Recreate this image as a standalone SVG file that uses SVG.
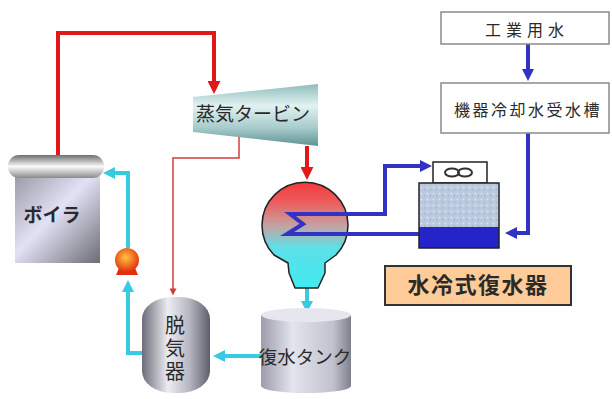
<svg xmlns="http://www.w3.org/2000/svg" width="612" height="399" viewBox="0 0 612 399">
  <style>
    .jp { font-family: "Noto Sans CJK JP", "Noto Sans", sans-serif; fill: #2a2a2a; }
    .steam { fill: none; stroke: #e01818; stroke-width: 4; }
    .bleed { fill: none; stroke: #d23c3c; stroke-width: 1.5; }
    .water { fill: none; stroke: #36cbe0; stroke-width: 4; }
    .cool { fill: none; stroke: #3232c4; stroke-width: 4; }
    .box { fill: #ffffff; stroke: #8a8a8a; stroke-width: 1.5; }
  </style>
  <defs>
    <marker id="arRed" viewBox="0 0 12 12" markerUnits="userSpaceOnUse" markerWidth="13" markerHeight="13" refX="1" refY="6" orient="auto">
      <path d="M0,0 L12,6 L0,12 z" fill="#e01818"/>
    </marker>
    <marker id="arRedThin" viewBox="0 0 12 12" markerUnits="userSpaceOnUse" markerWidth="7" markerHeight="7" refX="1" refY="6" orient="auto">
      <path d="M0,0 L12,6 L0,12 z" fill="#d23c3c"/>
    </marker>
    <marker id="arCyan" viewBox="0 0 12 12" markerUnits="userSpaceOnUse" markerWidth="12" markerHeight="12" refX="1" refY="6" orient="auto">
      <path d="M0,0 L12,6 L0,12 z" fill="#36cbe0"/>
    </marker>
    <marker id="arBlue" viewBox="0 0 12 12" markerUnits="userSpaceOnUse" markerWidth="12" markerHeight="12" refX="1" refY="6" orient="auto">
      <path d="M0,0 L12,6 L0,12 z" fill="#3232c4"/>
    </marker>
    <linearGradient id="gTurbine" x1="0" y1="0" x2="0" y2="1">
      <stop offset="0" stop-color="#8fbcbc"/>
      <stop offset="0.35" stop-color="#e2f2f2"/>
      <stop offset="0.7" stop-color="#a9cccc"/>
      <stop offset="1" stop-color="#5e9494"/>
    </linearGradient>
    <linearGradient id="gCondenser" x1="0" y1="182" x2="0" y2="288" gradientUnits="userSpaceOnUse">
      <stop offset="0" stop-color="#f23a3a"/>
      <stop offset="0.18" stop-color="#ee5a5a"/>
      <stop offset="0.42" stop-color="#c4a4a4"/>
      <stop offset="0.62" stop-color="#5ee0e8"/>
      <stop offset="1" stop-color="#40eaf2"/>
    </linearGradient>
    <linearGradient id="gDrum" x1="0" y1="0" x2="0" y2="1">
      <stop offset="0" stop-color="#6e6e6e"/>
      <stop offset="0.5" stop-color="#fafafa"/>
      <stop offset="1" stop-color="#8a8a8a"/>
    </linearGradient>
    <linearGradient id="gBoiler" x1="0" y1="0" x2="1" y2="1">
      <stop offset="0" stop-color="#9a9aa8"/>
      <stop offset="0.45" stop-color="#e2e2f6"/>
      <stop offset="1" stop-color="#6c6c74"/>
    </linearGradient>
    <linearGradient id="gVessel" x1="0" y1="0" x2="1" y2="0">
      <stop offset="0" stop-color="#6c6c7a"/>
      <stop offset="0.38" stop-color="#ececf2"/>
      <stop offset="0.7" stop-color="#b6b6c2"/>
      <stop offset="1" stop-color="#5e5e6a"/>
    </linearGradient>
    <linearGradient id="gTank" x1="0" y1="0" x2="1" y2="0">
      <stop offset="0" stop-color="#9c9cac"/>
      <stop offset="0.35" stop-color="#e4e4ee"/>
      <stop offset="0.8" stop-color="#c2c2ce"/>
      <stop offset="1" stop-color="#80808c"/>
    </linearGradient>
    <radialGradient id="gPump" cx="0.45" cy="0.4" r="0.6">
      <stop offset="0" stop-color="#ffc640"/>
      <stop offset="1" stop-color="#e2300e"/>
    </radialGradient>
    <pattern id="pSpeckle" width="6" height="6" patternUnits="userSpaceOnUse">
      <rect width="6" height="6" fill="#bccae0"/>
      <circle cx="1.5" cy="1.5" r="0.8" fill="#e8eef6"/>
      <circle cx="4.5" cy="4" r="0.7" fill="#9aaac4"/>
    </pattern>
  </defs>

  <rect width="612" height="399" fill="#ffffff"/>

  <!-- piping -->
  <g id="connectors">
    <path class="steam" d="M58,155 V33 H214 V82" marker-end="url(#arRed)"/>
    <path class="steam" d="M307,146 V168" marker-end="url(#arRed)"/>
    <path class="bleed" d="M239,132 V158 H173 V289" marker-end="url(#arRedThin)"/>
    <path class="water" d="M307,288 V302" marker-end="url(#arCyan)"/>
    <path class="water" d="M261,356 H224" marker-end="url(#arCyan)"/>
    <path class="water" d="M142,353 H128 V291" marker-end="url(#arCyan)"/>
    <path class="water" d="M128,248 V173 H114" marker-end="url(#arCyan)"/>
    <path class="cool" d="M528,44 V70" marker-end="url(#arBlue)"/>
    <path class="cool" d="M528,133 V233 H516" marker-end="url(#arBlue)"/>
  </g>

  <!-- boiler -->
  <g id="boiler">
    <rect x="15" y="176" width="85" height="87" fill="url(#gBoiler)"/>
    <rect x="8" y="155" width="96" height="23" rx="11" ry="11" fill="url(#gDrum)"/>
    <text class="jp" x="52" y="222" font-size="19" font-weight="bold" text-anchor="middle">ボイラ</text>
  </g>

  <!-- steam turbine -->
  <g id="turbine">
    <polygon points="193,97 318,84 318,146 193,132" fill="url(#gTurbine)"/>
    <text class="jp" x="253" y="121" font-size="19" text-anchor="middle">蒸気タービン</text>
  </g>

  <!-- condenser with cooling coil -->
  <g id="condenser">
    <path d="M274,255 A43,43 0 1 1 336,255 L325,263 L325,273 L318,288 L295,288 L289,273 L288,263 Z" fill="url(#gCondenser)" stroke="#222222" stroke-width="1.5" stroke-linejoin="round"/>
    <path class="cool" d="M419,234 H287 L303,224 L290,214 H385 V166 H421" marker-end="url(#arBlue)" stroke-linejoin="miter"/>
  </g>

  <!-- cooling unit -->
  <g id="cooler">
    <rect x="433" y="162" width="54" height="21" fill="#ffffff" stroke="#222222" stroke-width="1.5"/>
    <ellipse cx="452" cy="172.5" rx="7" ry="4" fill="none" stroke="#333333" stroke-width="2"/>
    <ellipse cx="465" cy="172.5" rx="7" ry="4" fill="none" stroke="#333333" stroke-width="2"/>
    <rect x="419" y="183" width="80" height="44" fill="url(#pSpeckle)"/>
    <rect x="419" y="227" width="80" height="21" fill="#2424c8"/>
    <rect x="419" y="183" width="80" height="65" fill="none" stroke="#222222" stroke-width="1.5"/>
  </g>

  <!-- condensate tank -->
  <g id="tank">
    <path d="M261,315 V386 A45,7 0 0 0 351,386 V315 Z" fill="url(#gTank)"/>
    <ellipse cx="306" cy="315" rx="45" ry="7" fill="#e6e6ee"/>
    <text class="jp" x="305" y="364" font-size="18.5" text-anchor="middle">復水タンク</text>
  </g>

  <!-- deaerator -->
  <g id="deaerator">
    <rect x="142" y="297" width="68" height="96" rx="30" ry="22" fill="url(#gVessel)"/>
    <text class="jp" x="175" y="315" font-size="20" letter-spacing="3" writing-mode="tb">脱気器</text>
  </g>

  <!-- feed pump -->
  <g id="pump">
    <path d="M119,268 H135 L138,275 H116 Z" fill="#e03010"/>
    <circle cx="127" cy="260" r="12" fill="url(#gPump)"/>
  </g>

  <!-- water supply boxes -->
  <g id="industrial-water">
    <rect class="box" x="441" y="12" width="168" height="32"/>
    <text class="jp" x="527" y="36" font-size="16" letter-spacing="5" text-anchor="middle">工業用水</text>
  </g>
  <g id="receiving-tank">
    <rect class="box" x="441" y="83" width="168" height="50"/>
    <text class="jp" x="528" y="116" font-size="16" letter-spacing="2.5" text-anchor="middle">機器冷却水受水槽</text>
  </g>

  <!-- caption -->
  <g id="caption">
    <rect x="385" y="266" width="186" height="39" fill="#ffcc99" stroke="#333333" stroke-width="2"/>
    <text class="jp" x="478" y="293" font-size="22" font-weight="bold" letter-spacing="1.5" text-anchor="middle" fill="#1a1a1a">水冷式復水器</text>
  </g>
</svg>
